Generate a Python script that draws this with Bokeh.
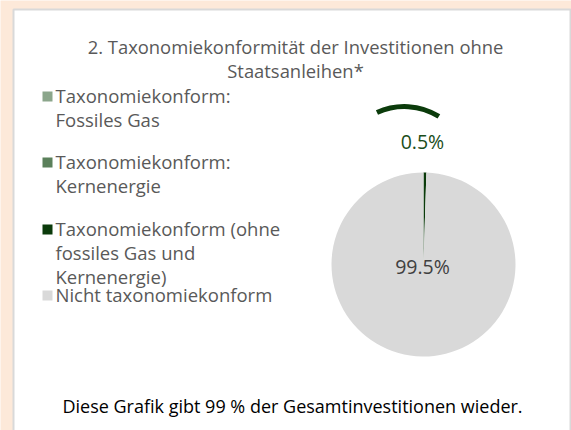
import numpy as np
from bokeh.plotting import figure
from bokeh.models import Range1d, ColumnDataSource
from bokeh.embed import file_html
from bokeh.resources import INLINE
from bokeh.core.properties import value

# ---- data ----
title_lines = ["2. Taxonomiekonformität der Investitionen ohne", "Staatsanleihen*"]
categories = [
    "Taxonomiekonform:\nFossiles Gas",
    "Taxonomiekonform:\nKernenergie",
    "Taxonomiekonform (ohne\nfossiles Gas und\nKernenergie)",
    "Nicht taxonomiekonform",
]
shares = [0.0, 0.0, 0.5, 99.5]
colors = ["#8ba68b", "#5b805b", "#0b3b0b", "#d9d9d9"]
footnote = "Diese Grafik gibt 99 % der Gesamtinvestitionen wieder."

FONT = value("Open Sans")
PEACH = "#fde9d9"
GRAY_LINE = "#d9d9d9"

# data coordinates == page pixels (x right, y = -page_y)
p = figure(width=571, height=430, output_backend="svg", toolbar_location=None,
           x_range=Range1d(0, 571), y_range=Range1d(-430, 0), min_border=0)
p.axis.visible = False
p.grid.visible = False
p.outline_line_color = None
p.background_fill_color = PEACH
p.border_fill_color = PEACH

# white chart panel
p.quad(left=[13], right=[570], top=[-9], bottom=[-460],
       fill_color="white", line_color=GRAY_LINE, line_width=2)

# title
p.text(x=[295] * len(title_lines), y=[-46 - 24 * i for i in range(len(title_lines))],
       text=title_lines, text_font=FONT, text_font_size="18.4px", text_color="#595959",
       text_align="center", text_baseline="middle")

# legend
lx, ly, step = 55, -95, 24.0
item_gap = [0, 66, 133, 199]
sq_x, sq_y, sq_c = [], [], []
tx, ty, tt = [], [], []
for i, (lab, col) in enumerate(zip(categories, colors)):
    y0 = ly - item_gap[i]
    sq_x.append(lx - 8); sq_y.append(y0 - 1); sq_c.append(col)
    for j, line in enumerate(lab.split("\n")):
        tx.append(lx); ty.append(y0 - j * step); tt.append(line)
p.scatter(x=sq_x, y=sq_y, marker="square", size=10, fill_color=sq_c, line_color=None)
p.text(x=tx, y=ty, text=tt, text_font=FONT, text_font_size="18.5px", text_color="#595959",
       text_align="left", text_baseline="middle")

# pie
cx, cy, r = 423, -264, 92
frac = np.array(shares) / 100.0
cum = np.concatenate([[0], np.cumsum(frac)])
start = np.pi / 2 - cum[:-1] * 2 * np.pi
end = np.pi / 2 - cum[1:] * 2 * np.pi
keep = frac > 0
src = ColumnDataSource(dict(start=start[keep], end=end[keep],
                            color=[c for c, k in zip(colors, keep) if k]))
p.wedge(x=cx, y=cy, radius=r, start_angle="start", end_angle="end", direction="clock",
        fill_color="color", line_color=None, source=src)

# data labels
mid = (start + end) / 2
idx_small, idx_big = 2, 3
lab_r = 1.337 * r
sx = cx + lab_r * np.cos(mid[idx_small]) - 3
sy = cy + lab_r * np.sin(mid[idx_small])
p.text(x=[sx], y=[sy], text=[f"{shares[idx_small]:.1f}%"], text_font=FONT,
       text_font_size="19.5px", text_color="#1a4d1a", text_align="center", text_baseline="middle")
p.text(x=[cx - 1], y=[cy - 2], text=[f"{shares[idx_big]:.1f}%"], text_font=FONT,
       text_font_size="19.5px", text_color="#404040", text_align="center", text_baseline="middle")

# leader arc above the small label
p.arc(x=[sx - 18], y=[sy - 30], radius=65, radius_units="data",
      start_angle=np.deg2rad(58), end_angle=np.deg2rad(115),
      line_color="#0b3b0b", line_width=5)

# footnote
p.text(x=[292], y=[-405], text=[footnote], text_font=FONT, text_font_size="18px",
       text_color="#000000", text_align="center", text_baseline="middle")

open("out.html", "w").write(file_html(p, INLINE))
